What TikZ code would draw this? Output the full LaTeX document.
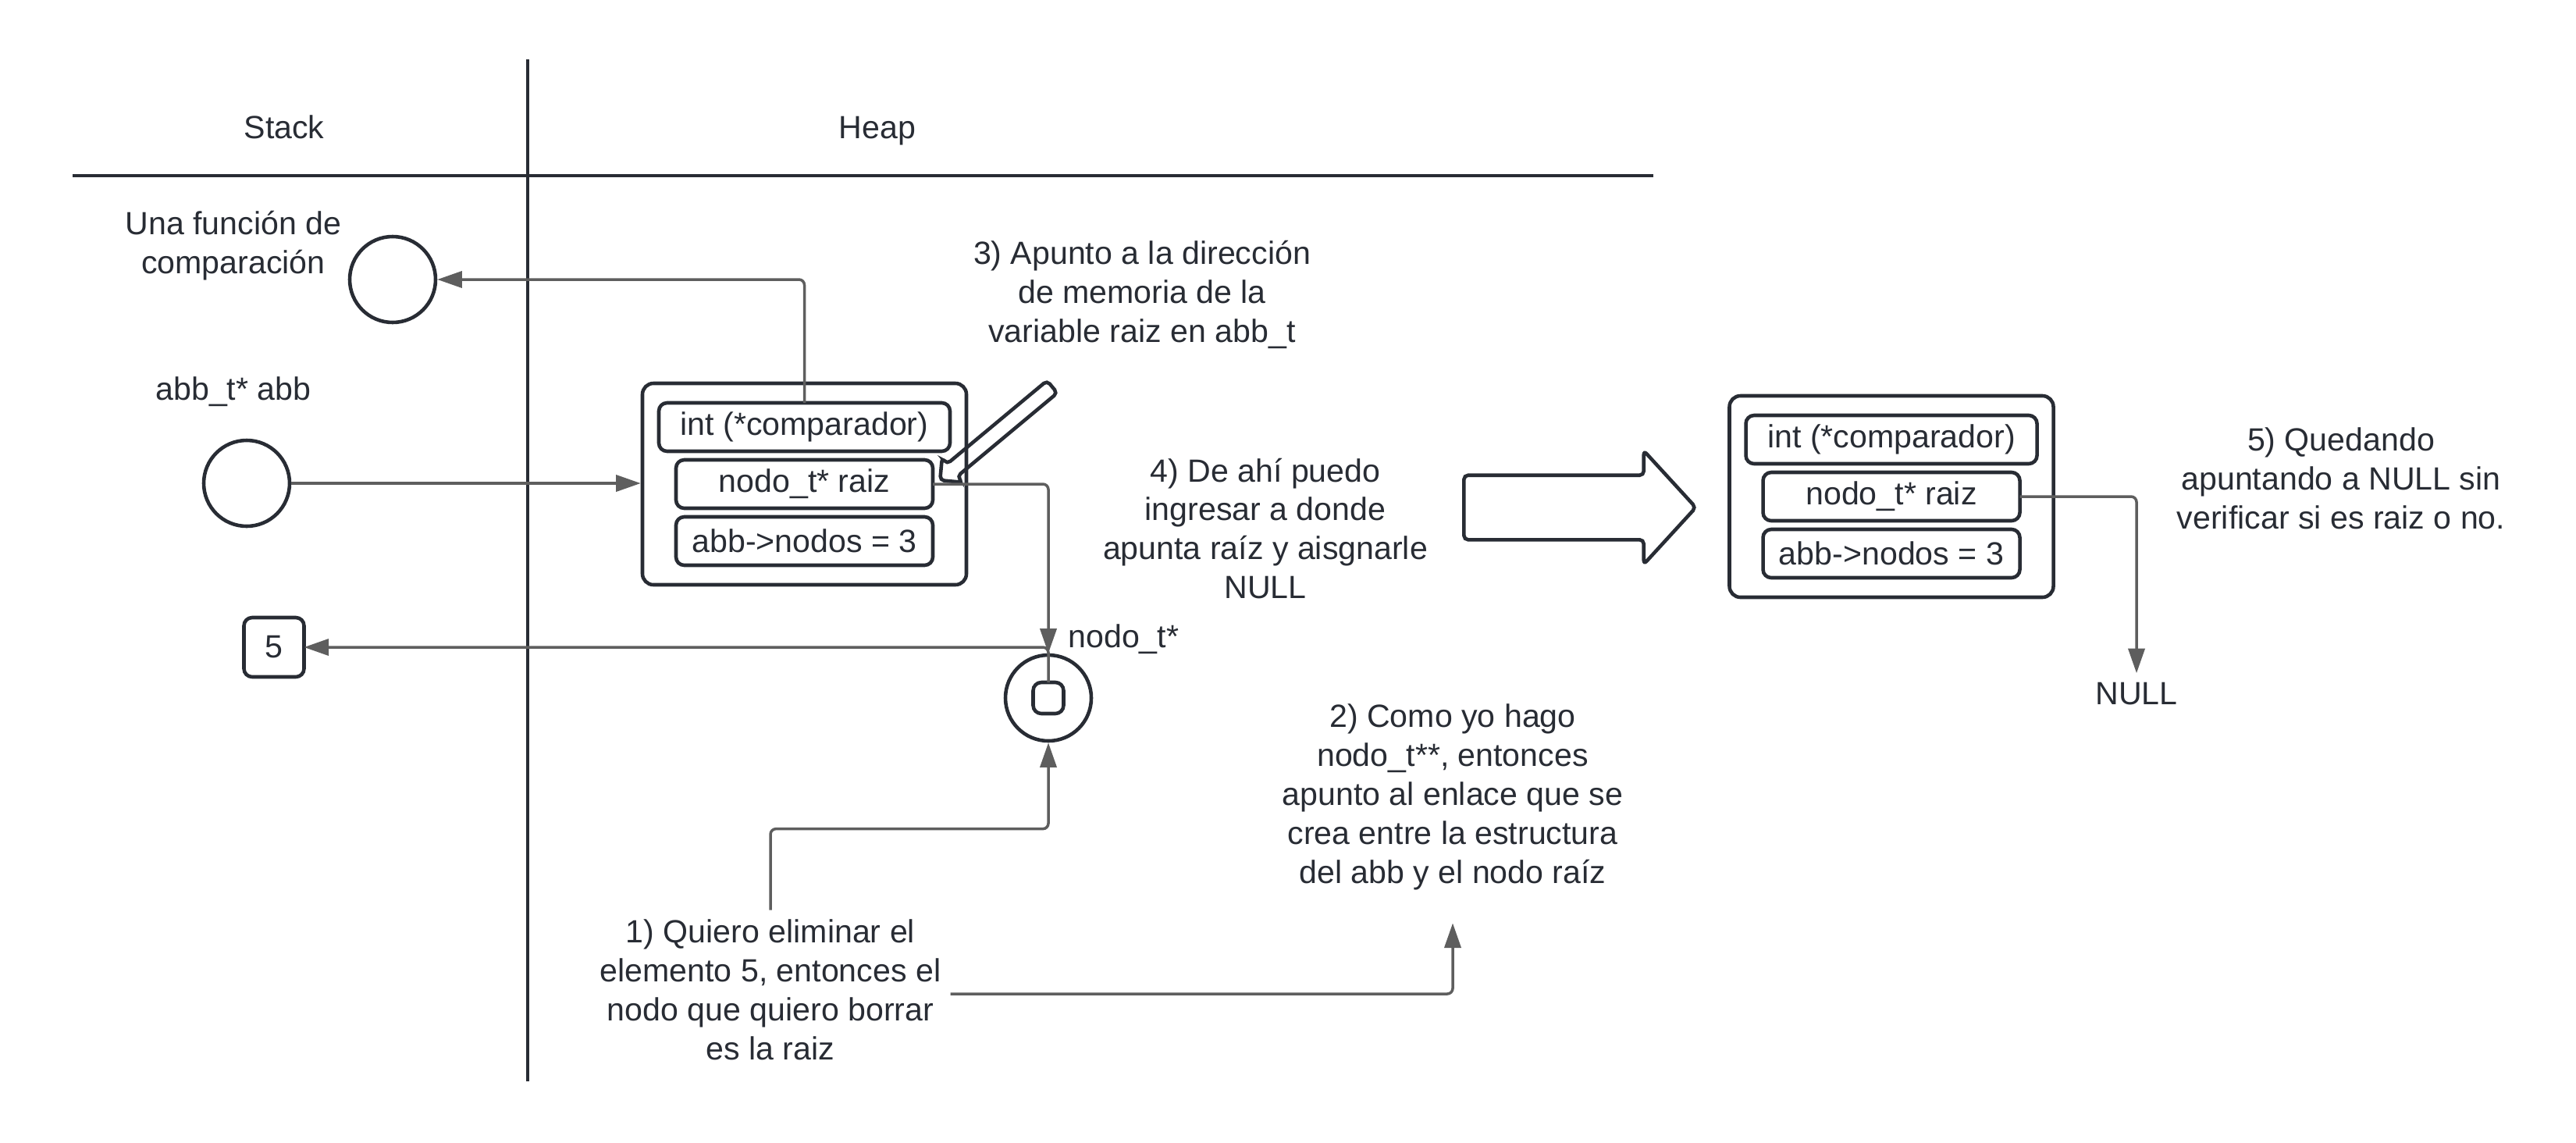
\documentclass[tikz,border=0pt]{standalone}
\usepackage{fontspec}
\setmainfont{Liberation Sans}
\usepackage{xcolor}
\usepackage{tikz}
\usetikzlibrary{shapes, arrows.meta, positioning, fit}
\definecolor{inkdark}{RGB}{40,44,52}
\definecolor{linkgray}{RGB}{94,94,94}

\begin{document}
\begin{tikzpicture}
  [
    font=\fontsize{11.7pt}{14.2pt}\selectfont, text=inkdark,
    Var/.style={circle, draw=inkdark, line width=1.3pt, minimum size=1.1cm},
    Field/.style={rectangle, draw=inkdark, line width=1.3pt, rounded corners=3pt, inner sep=0, outer sep=0, minimum width=3.29cm, minimum height=0.62cm},
    Wide/.style={Field, minimum width=3.73cm},
    Struct/.style={rectangle, draw=inkdark, line width=1.3pt, rounded corners=4pt, inner xsep=0.21cm, inner ysep=0.25cm},
    Note/.style={align=center},
    Link/.style={draw=linkgray, line width=1pt, rounded corners=2pt, -{Triangle[length=9pt, width=6pt]}},
    Hollow/.style={single arrow, draw=inkdark, line width=1.3pt, rounded corners=1.5pt, inner xsep=0, minimum width=0}
  ]
  \useasboundingbox (0,0) rectangle (33,-14.63);
  % Frame
  \draw[inkdark, line width=1pt] (0.93,-2.25) -- (21.18,-2.25);
  \draw[inkdark, line width=1pt] (6.76,-0.76) -- (6.76,-13.85);
  % Nodes
  \node[anchor=base] (stack) at (3.64,-1.775) {Stack};
  \node[anchor=base] (heap) at (11.24,-1.775) {Heap};
  \node[Note] (cmplbl) at (2.99,-3.15) {Una función de\\comparación};
  \node[Var] (cmp) at (5.03,-3.58) {};
  \node (abblbl) at (2.99,-5.02) {abb\_t* abb};
  \node[Var] (abb) at (3.16,-6.19) {};
  \node[Field, minimum width=0.77cm, minimum height=0.76cm] (five) at (3.51,-8.29) {5};
  \node[Wide] (f1) at (10.305,-5.47) {int (*comparador)};
  \node[Field, below=0.11cm of f1] (f2) {nodo\_t* raiz};
  \node[Field, below=0.11cm of f2] (f3) {abb->nodos = 3};
  \node[Struct, fit=(f1)(f3)] (s1) {};
  \node[Var] (nodo) at (13.43,-8.94) {};
  \node[Field, minimum width=0.39cm, minimum height=0.40cm] (sq) at (nodo) {};
  \node[anchor=west] (nodolbl) at (13.56,-8.19) {nodo\_t*};
  \node[Note] (n3) at (14.63,-3.775) {3) Apunto a la dirección\\de memoria de la\\variable raiz en abb\_t};
  \node[Hollow, rotate=219.8, minimum height=1.87cm, inner ysep=0.08cm, single arrow head extend=0.1cm] (ptr) at (12.80,-5.52) {};
  \node[Note] (n4) at (16.21,-6.77) {4) De ahí puedo\\ingresar a donde\\apunta raíz y aisgnarle\\NULL};
  \node[Note] (n1) at (9.87,-12.68) {1) Quiero eliminar el\\elemento 5, entonces el\\nodo que quiero borrar\\es la raiz};
  \node[Note] (n2) at (18.61,-10.21) {2) Como yo hago\\nodo\_t**, entonces\\apunto al enlace que se\\crea entre la estructura\\del abb y el nodo raíz};
  \node[Hollow, minimum height=2.97cm, inner ysep=0.39cm, single arrow head extend=0.315cm, single arrow tip angle=95] (next) at (20.05,-6.50) {};
  \node[Wide] (g1) at (24.23,-5.63) {int (*comparador)};
  \node[Field, below=0.11cm of g1] (g2) {nodo\_t* raiz};
  \node[Field, below=0.11cm of g2] (g3) {abb->nodos = 3};
  \node[Struct, fit=(g1)(g3)] (s2) {};
  \node[Note] (n5) at (29.99,-6.125) {5) Quedando\\apuntando a NULL sin\\verificar si es raiz o no.};
  \node (null) at (27.37,-8.89) {NULL};
  % Lines
  \path[Link] (f1.north) |- (cmp.east);
  \path[Link] (abb.east) -- (abb.east -| s1.west);
  \path[Link] (f2.east) -| (nodo.north);
  \path[Link] (sq.north) |- (five.east);
  \path[Link] (n1.north) -- ++(0,1.04) -| (nodo.south);
  \path[Link] ([yshift=-0.05cm]n1.east) -| ([yshift=-0.3cm]n2.south);
  \path[Link] (g2.east) -| (null.north);
\end{tikzpicture}
\end{document}
